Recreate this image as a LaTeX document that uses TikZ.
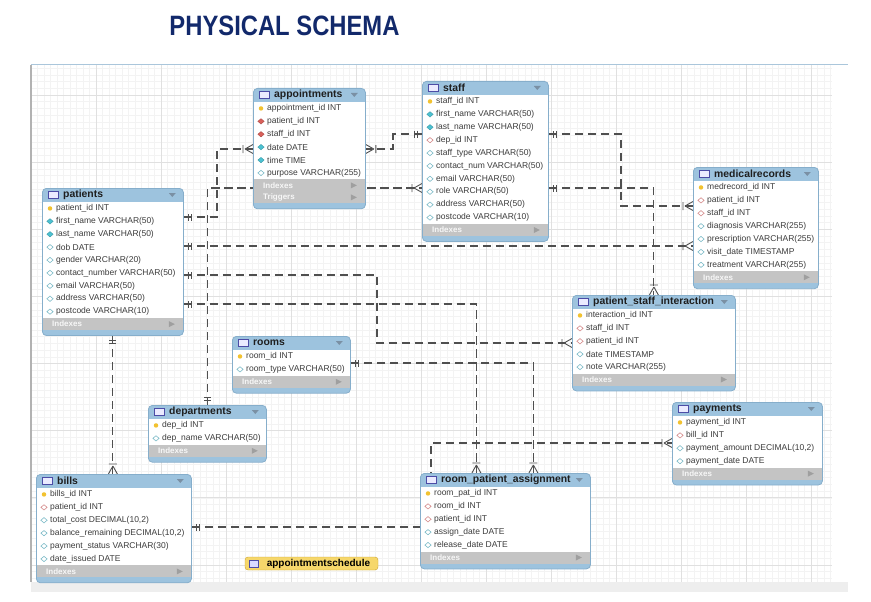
\documentclass[tikz,border=0pt]{standalone}
\usepackage{fontspec}
\setmainfont{Liberation Sans}
\usetikzlibrary{shapes.geometric}
\usetikzlibrary{decorations.markings}

\definecolor{headblue}{HTML}{9DC3DE}
\definecolor{edgeblue}{HTML}{86AECB}
\definecolor{footgray}{HTML}{C4C4C4}
\definecolor{rowgray}{HTML}{3C3C3C}
\definecolor{linkgray}{HTML}{4F4F4F}
\definecolor{keyyellow}{HTML}{F2C230}
\definecolor{fkred}{HTML}{D9605A}
\definecolor{fkpink}{HTML}{D58C8C}
\definecolor{nncyan}{HTML}{4CC2D2}
\definecolor{colcyan}{HTML}{7DBBC8}
\definecolor{titlenavy}{HTML}{12296B}
\definecolor{viewyellow}{HTML}{F6D76B}
\definecolor{viewedge}{HTML}{C9A22E}
\definecolor{gridminor}{HTML}{F3F3F3}
\definecolor{gridmajor}{HTML}{E0E0E0}
\definecolor{trigray}{HTML}{7A90A4}

\pgfdeclarelayer{back}
\pgfdeclarelayer{links}
\pgfsetlayers{back,links,main}

\tikzset{
  tablebox/.style={draw=edgeblue, fill=headblue, rounded corners=4pt, inner sep=0pt, line width=0.8pt},
  tabletitle/.style={anchor=west, inner sep=0pt, font=\fontsize{10.4}{12}\selectfont\bfseries, text=black!88},
  tableicon/.style={draw=blue!50!black!70, fill=blue!8, minimum width=10pt, minimum height=7.5pt, inner sep=0pt, line width=0.6pt},
  rowtext/.style={anchor=west, inner sep=0pt, font=\fontsize{8.5}{10}\selectfont, text=rowgray},
  foottext/.style={anchor=west, inner sep=0pt, font=\fontsize{8}{10}\selectfont\bfseries, text=white!94!gray},
  icon-pk/.style={circle, fill=keyyellow, minimum size=4.5pt, inner sep=0pt},
  icon-fkf/.style={diamond, draw=fkred!80!black, fill=fkred, minimum width=6.5pt, minimum height=5.5pt, inner sep=0pt, line width=0.4pt},
  icon-fk/.style={diamond, draw=fkpink, fill=white, minimum width=6.5pt, minimum height=5.5pt, inner sep=0pt, line width=0.6pt},
  icon-nn/.style={diamond, draw=nncyan!80!black, fill=nncyan, minimum width=6.5pt, minimum height=5.5pt, inner sep=0pt, line width=0.4pt},
  icon-col/.style={diamond, draw=colcyan, fill=white, minimum width=6.5pt, minimum height=5.5pt, inner sep=0pt, line width=0.6pt},
  fkline/.style={draw=linkgray, line width=1.1pt, dash pattern=on 8.5pt off 4.5pt,
    postaction={decorate, decoration={markings,
      mark=at position 0 with {\draw[solid, draw=linkgray, line width=0.9pt] (5pt,-3.5pt) -- (5pt,3.5pt) (8pt,-3.5pt) -- (8pt,3.5pt);},
      mark=at position 1 with {\draw[solid, draw=linkgray, line width=0.9pt] (-8pt,0pt) -- (0pt,4.5pt) (-8pt,0pt) -- (0pt,-4.5pt) (-10pt,-4pt) -- (-10pt,4pt);}}}},
  viewbox/.style={draw=viewedge, fill=viewyellow, rounded corners=3pt, minimum width=133pt, minimum height=13pt, inner sep=0pt, font=\fontsize{10}{12}\selectfont\bfseries},
}

% one table: name, top left, width, title, rows kind/text, footer rows
\newcommand{\dbtable}[6]{%
  \foreach \kind/\txt [count=\cnt] in {#5} {\xdef\rowcount{\cnt}}%
  \foreach \ftxt [count=\cnt] in {#6} {\xdef\footcount{\cnt}}%
  \pgfmathsetmacro\tabh{14+12.9*\rowcount+12*\footcount+5}%
  \node[tablebox, minimum width=#3, minimum height=\tabh, anchor=north west] (#1) at (#2) {};
  \fill[white] ([shift={(1,14)}]#1.north west) rectangle ([shift={(-1,{14+12.9*\rowcount})}]#1.north east);
  \node[tableicon] at ([shift={(11,7)}]#1.north west) {};
  \node[tabletitle] (#1-title) at ([shift={(21,7)}]#1.north west) {#4};
  \fill[trigray] ([shift={(-15,5)}]#1.north east) -- ++(7,0) -- ++(-3.5,4) -- cycle;
  \foreach \kind/\txt [count=\r] in {#5} {
    \node[icon-\kind] at ([shift={(8,{14+6.45+12.9*(\r-1)})}]#1.north west) {};
    \node[rowtext] (#1-\r) at ([shift={(14,{14+6.45+12.9*(\r-1)})}]#1.north west) {\txt};
  }
  \foreach \ftxt [count=\r] in {#6} {
    \fill[footgray] ([shift={(1,{14+12.9*\rowcount+12*(\r-1)})}]#1.north west) rectangle ([shift={(-1,{14+12.9*\rowcount+12*\r})}]#1.north east);
    \node[foottext] at ([shift={(10,{14+12.9*\rowcount+12*(\r-1)+6})}]#1.north west) {\ftxt};
    \fill[gray!75] ([shift={(-15,{14+12.9*\rowcount+12*(\r-1)+3})}]#1.north east) -- ++(6,3) -- ++(-6,3) -- cycle;
  }
}

\begin{document}
\begin{tikzpicture}[x=1pt, y=-1pt]
  \useasboundingbox (0,0) rectangle (871,602);

  % grid canvas
  \begin{pgfonlayer}{back}
    \foreach \gx in {0,...,123}
      \draw[gridminor, line width=0.5pt] ({31+6.5*\gx},65) -- ({31+6.5*\gx},582);
    \foreach \gy in {-4,...,72}
      \draw[gridminor, line width=0.5pt] (31,{95+6.714*\gy}) -- (832,{95+6.714*\gy});
    \foreach \gx in {0,...,12}
      \draw[gridmajor, line width=0.7pt] ({31+65*\gx},65) -- ({31+65*\gx},582);
    \foreach \gy in {0,...,7}
      \draw[gridmajor, line width=0.7pt] (31,{95+67.14*\gy}) -- (832,{95+67.14*\gy});
    \fill[gray!13] (31,582) rectangle (848,592);
    \draw[edgeblue!70, line width=1pt] (31,65) -- (848,65);
    \draw[gray!60, line width=1.5pt] (31,65) -- (31,582);
  \end{pgfonlayer}

  \node[font=\fontsize{28}{32}\selectfont\bfseries, text=titlenavy, inner sep=0pt] (title) at (284.5,25.5) {\scalebox{0.85}[1]{PHYSICAL SCHEMA}};

  % tables
  \dbtable{appointments}{253,88}{112}{appointments}{pk/appointment\_id INT, fkf/patient\_id INT, fkf/staff\_id INT, nn/date DATE, nn/time TIME, col/purpose VARCHAR(255)}{Indexes,Triggers}
  \dbtable{staff}{422,81}{126}{staff}{pk/staff\_id INT, nn/first\_name VARCHAR(50), nn/last\_name VARCHAR(50), fk/dep\_id INT, col/staff\_type VARCHAR(50), col/contact\_num VARCHAR(50), col/email VARCHAR(50), col/role VARCHAR(50), col/address VARCHAR(50), col/postcode VARCHAR(10)}{Indexes}
  \dbtable{patients}{42,188}{141}{patients}{pk/patient\_id INT, nn/first\_name VARCHAR(50), nn/last\_name VARCHAR(50), col/dob DATE, col/gender VARCHAR(20), col/contact\_number VARCHAR(50), col/email VARCHAR(50), col/address VARCHAR(50), col/postcode VARCHAR(10)}{Indexes}
  \dbtable{medicalrecords}{693,167}{125}{medicalrecords}{pk/medrecord\_id INT, fk/patient\_id INT, fk/staff\_id INT, col/diagnosis VARCHAR(255), col/prescription VARCHAR(255), col/visit\_date TIMESTAMP, col/treatment VARCHAR(255)}{Indexes}
  \dbtable{interaction}{572,295}{163}{patient\_staff\_interaction}{pk/interaction\_id INT, fk/staff\_id INT, fk/patient\_id INT, col/date TIMESTAMP, col/note VARCHAR(255)}{Indexes}
  \dbtable{rooms}{232,336}{118}{rooms}{pk/room\_id INT, col/room\_type VARCHAR(50)}{Indexes}
  \dbtable{departments}{148,405}{118}{departments}{pk/dep\_id INT, col/dep\_name VARCHAR(50)}{Indexes}
  \dbtable{payments}{672,402}{150}{payments}{pk/payment\_id INT, fk/bill\_id INT, col/{payment\_amount DECIMAL(10,2)}, col/payment\_date DATE}{Indexes}
  \dbtable{bills}{36,474}{155}{bills}{pk/bills\_id INT, fk/patient\_id INT, col/{total\_cost DECIMAL(10,2)}, col/{balance\_remaining DECIMAL(10,2)}, col/payment\_status VARCHAR(30), col/date\_issued DATE}{Indexes}
  \dbtable{assignment}{420,473}{170}{room\_patient\_assignment}{pk/room\_pat\_id INT, fk/room\_id INT, fk/patient\_id INT, col/assign\_date DATE, col/release\_date DATE}{Indexes}

  % view
  \node[viewbox] (schedule) at (311.5,563.5) {\hspace{14pt}appointmentschedule};
  \node[tableicon, fill=blue!15, minimum width=9pt, minimum height=7pt] at ([xshift=9pt]schedule.west) {};

  % relationships
  \begin{pgfonlayer}{links}
    \draw[fkline] (patients.east |- 0,217) -| (217,149) -- (appointments.west |- 0,149);
    \draw[fkline] (departments.north) |- (staff.west |- 0,188);
    \draw[fkline] (staff.west |- 0,134) -| (393,149) -- (appointments.east |- 0,149);
    \draw[fkline] (patients.east |- 0,246) -- (medicalrecords.west |- 0,246);
    \draw[fkline] (patients.east |- 0,275) -| (377,343) -- (interaction.west |- 0,343);
    \draw[fkline] (patients.east |- 0,304) -| ([xshift=-29pt]assignment.north);
    \draw[fkline] (rooms.east |- 0,363) -| ([xshift=28pt]assignment.north);
    \draw[fkline] (bills.east |- 0,527) -| (431,443) -- (payments.west |- 0,443);
    \draw[fkline] (patients.south) -- (patients.south |- bills.north);
    \draw[fkline] (staff.east |- 0,134) -| (621,206) -- (medicalrecords.west |- 0,206);
    \draw[fkline] (staff.east |- 0,188) -| (interaction.north);
  \end{pgfonlayer}
\end{tikzpicture}
\end{document}
